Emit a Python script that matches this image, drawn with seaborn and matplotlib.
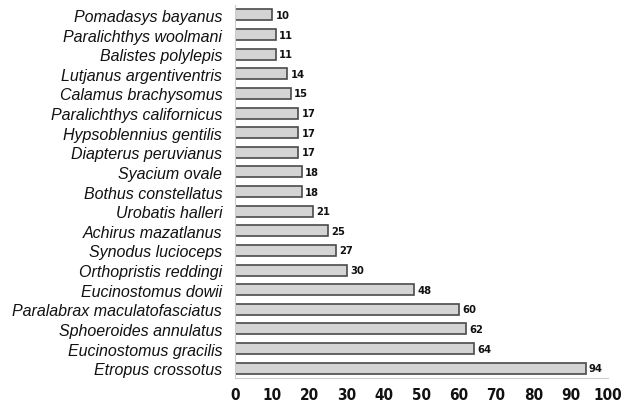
import matplotlib
matplotlib.use("Agg")
import matplotlib.pyplot as plt
import seaborn as sns
import pandas as pd

species = [
    "Pomadasys bayanus", "Paralichthys woolmani", "Balistes polylepis",
    "Lutjanus argentiventris", "Calamus brachysomus", "Paralichthys californicus",
    "Hypsoblennius gentilis", "Diapterus peruvianus", "Syacium ovale",
    "Bothus constellatus", "Urobatis halleri", "Achirus mazatlanus",
    "Synodus lucioceps", "Orthopristis reddingi", "Eucinostomus dowii",
    "Paralabrax maculatofasciatus", "Sphoeroides annulatus",
    "Eucinostomus gracilis", "Etropus crossotus",
]
counts = [10, 11, 11, 14, 15, 17, 17, 17, 18, 18, 21, 25, 27, 30, 48, 60, 62, 64, 94]
xticks = [0, 10, 20, 30, 40, 50, 60, 70, 80, 90, 100]

df = pd.DataFrame({"species": species, "count": counts})

sns.set_style("white")
plt.rcParams["font.family"] = ["Liberation Sans", "DejaVu Sans"]

fig = plt.figure(figsize=(6.21, 4.06), dpi=100)
ax = fig.add_axes([0.378, 0.0665, 0.601, 0.9185])

sns.barplot(data=df, x="count", y="species", orient="h", color="#d4d4d4",
            edgecolor="#4a4a4a", linewidth=1.2, width=0.56, saturation=1, ax=ax)

narrow = ["DejaVu Sans"]
for i, v in enumerate(counts):
    ax.text(v + 0.9, i, str(v), va="center", ha="left", fontsize=8,
            fontweight="bold", family=narrow, fontstretch="condensed",
            color="#111111")

ax.set_xlim(0, 100)
ax.set_ylim(len(species) - 0.5, -0.5)
ax.set_xticks(xticks)
ax.set_xticklabels([str(t) for t in xticks], fontsize=11, fontweight="bold",
                   family=narrow, fontstretch="condensed", color="#111111")
ax.set_yticks(range(len(species)))
ax.set_yticklabels(species, fontsize=11.5, style="italic", color="#111111")
ax.set_xlabel("")
ax.set_ylabel("")
for s in ["top", "right"]:
    ax.spines[s].set_visible(False)
for s in ["left", "bottom"]:
    ax.spines[s].set_color("#cccccc")
    ax.spines[s].set_linewidth(0.8)
ax.tick_params(axis="both", length=3, color="#cccccc", width=0.8)
ax.tick_params(axis="x", pad=3.5)
ax.tick_params(axis="y", pad=6)

fig.savefig("out.png", dpi=100)
